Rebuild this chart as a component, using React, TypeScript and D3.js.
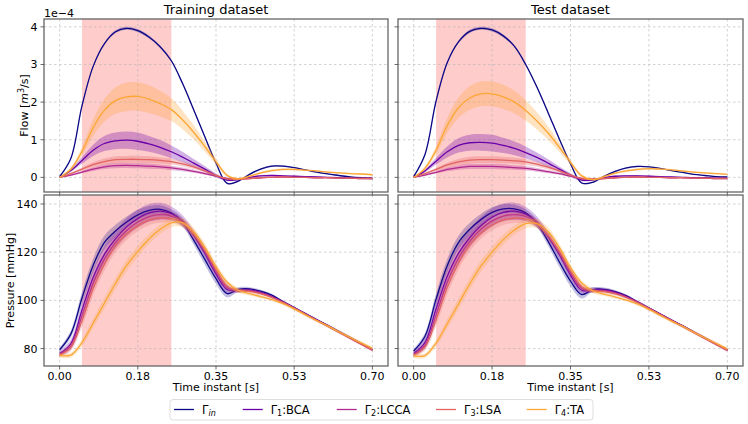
import { useEffect, useRef } from 'react';
import * as d3 from 'd3';

// Time axis (s) and tick labels
const timeSteps = [
  0, 0.025, 0.05, 0.075, 0.1, 0.125, 0.15, 0.175, 0.2, 0.225, 0.25, 0.275, 0.3, 0.325, 0.35,
  0.375, 0.4, 0.425, 0.45, 0.475, 0.5, 0.525, 0.55, 0.575, 0.6, 0.625, 0.65, 0.675, 0.7,
];
const xTicks = [0, 0.175, 0.35, 0.525, 0.7];
const xTickLabels = ['0.00', '0.18', '0.35', '0.53', '0.70'];
const flowTicks = [0, 1, 2, 3, 4];
const pressureTicks = [80, 100, 120, 140];
const systoleWindow = [0.05, 0.25];

const datasetTitles = ['Training dataset', 'Test dataset'];
const seriesSub = ['in', '1', '2', '3', '4'];
const seriesTag = ['', ':BCA', ':LCCA', ':LSA', ':TA'];
const seriesColors = ['#0d0887', '#6a00a8', '#b12a90', '#e16462', '#fca636'];

// Flow, units of 1e-4 m^3/s. Rows: in, BCA, LCCA, LSA, TA
const trainFlowMean = [
  [0.02, 0.5, 1.9, 2.95, 3.55, 3.87, 3.96, 3.9, 3.73, 3.47, 3.1, 2.5, 1.8, 1.08, 0.38, -0.16, -0.1, 0.08, 0.22, 0.3, 0.3, 0.26, 0.2, 0.14, 0.09, 0.05, 0.01, -0.01, -0.02],
  [0, 0.18, 0.45, 0.72, 0.9, 0.97, 0.99, 0.96, 0.89, 0.8, 0.68, 0.54, 0.38, 0.22, 0.05, -0.07, -0.06, 0, 0.04, 0.05, 0.04, 0.03, 0.02, 0.01, 0, -0.01, -0.02, -0.02, -0.03],
  [0, 0.06, 0.14, 0.22, 0.28, 0.31, 0.32, 0.31, 0.3, 0.28, 0.25, 0.21, 0.16, 0.1, 0.03, -0.03, -0.04, -0.03, -0.01, 0, 0.01, 0, 0, -0.01, -0.01, -0.02, -0.02, -0.03, -0.03],
  [0, 0.1, 0.22, 0.34, 0.42, 0.47, 0.48, 0.48, 0.47, 0.45, 0.42, 0.36, 0.28, 0.17, 0.05, -0.04, -0.05, -0.03, -0.01, 0, 0.01, 0, 0, -0.01, -0.01, -0.02, -0.02, -0.03, -0.03],
  [0, 0.22, 0.69, 1.32, 1.78, 2.04, 2.14, 2.15, 2.08, 1.96, 1.8, 1.53, 1.2, 0.82, 0.42, 0.05, -0.04, 0.03, 0.12, 0.18, 0.21, 0.21, 0.19, 0.17, 0.14, 0.12, 0.1, 0.09, 0.07],
];
const trainFlowStd = [
  [0.01, 0.02, 0.03, 0.03, 0.03, 0.04, 0.04, 0.04, 0.04, 0.03, 0.03, 0.03, 0.03, 0.03, 0.02, 0.02, 0.02, 0.02, 0.02, 0.02, 0.02, 0.01, 0.01, 0.01, 0.01, 0.01, 0.01, 0.01, 0.01],
  [0.01, 0.04, 0.09, 0.15, 0.2, 0.22, 0.23, 0.23, 0.21, 0.19, 0.17, 0.14, 0.11, 0.08, 0.05, 0.03, 0.02, 0.02, 0.02, 0.02, 0.02, 0.02, 0.01, 0.01, 0.01, 0.01, 0.01, 0.01, 0.01],
  [0.01, 0.02, 0.03, 0.05, 0.06, 0.07, 0.07, 0.07, 0.07, 0.06, 0.06, 0.05, 0.04, 0.03, 0.02, 0.02, 0.01, 0.01, 0.01, 0.01, 0.01, 0.01, 0.01, 0.01, 0.01, 0.01, 0.01, 0.01, 0.01],
  [0.01, 0.02, 0.04, 0.06, 0.08, 0.09, 0.09, 0.09, 0.09, 0.08, 0.08, 0.07, 0.06, 0.04, 0.03, 0.02, 0.02, 0.01, 0.01, 0.01, 0.01, 0.01, 0.01, 0.01, 0.01, 0.01, 0.01, 0.01, 0.01],
  [0.01, 0.05, 0.12, 0.22, 0.3, 0.35, 0.38, 0.38, 0.37, 0.34, 0.3, 0.25, 0.19, 0.13, 0.08, 0.04, 0.03, 0.03, 0.03, 0.03, 0.03, 0.03, 0.02, 0.02, 0.02, 0.02, 0.02, 0.02, 0.02],
];
const testFlowMean = [
  [0.02, 0.6, 2.03, 3.05, 3.6, 3.88, 3.96, 3.92, 3.76, 3.48, 3.0, 2.4, 1.72, 1.02, 0.36, -0.15, -0.13, 0.03, 0.16, 0.25, 0.29, 0.28, 0.24, 0.18, 0.13, 0.08, 0.05, 0.02, 0.01],
  [0, 0.17, 0.43, 0.68, 0.85, 0.92, 0.93, 0.91, 0.85, 0.77, 0.66, 0.53, 0.38, 0.22, 0.06, -0.07, -0.07, -0.01, 0.03, 0.04, 0.04, 0.03, 0.02, 0.01, 0, -0.01, -0.01, -0.02, -0.02],
  [0, 0.06, 0.13, 0.21, 0.26, 0.29, 0.29, 0.29, 0.28, 0.26, 0.24, 0.2, 0.15, 0.1, 0.03, -0.03, -0.04, -0.03, -0.01, 0, 0.01, 0, 0, -0.01, -0.01, -0.02, -0.02, -0.03, -0.03],
  [0, 0.1, 0.21, 0.33, 0.41, 0.46, 0.47, 0.47, 0.46, 0.44, 0.41, 0.35, 0.27, 0.17, 0.06, -0.03, -0.05, -0.03, -0.01, 0, 0.01, 0, 0, -0.01, -0.01, -0.02, -0.02, -0.03, -0.03],
  [0, 0.24, 0.72, 1.38, 1.85, 2.11, 2.22, 2.22, 2.14, 2.0, 1.78, 1.5, 1.18, 0.8, 0.4, 0.04, -0.06, 0.02, 0.11, 0.17, 0.21, 0.23, 0.22, 0.2, 0.17, 0.14, 0.12, 0.1, 0.08],
];
const testFlowStd = [
  [0.01, 0.02, 0.03, 0.03, 0.03, 0.04, 0.04, 0.04, 0.04, 0.03, 0.03, 0.03, 0.03, 0.03, 0.02, 0.02, 0.02, 0.02, 0.02, 0.02, 0.02, 0.01, 0.01, 0.01, 0.01, 0.01, 0.01, 0.01, 0.01],
  [0.01, 0.04, 0.09, 0.15, 0.19, 0.21, 0.22, 0.22, 0.2, 0.18, 0.16, 0.13, 0.1, 0.07, 0.05, 0.03, 0.02, 0.02, 0.02, 0.02, 0.02, 0.02, 0.01, 0.01, 0.01, 0.01, 0.01, 0.01, 0.01],
  [0.01, 0.02, 0.03, 0.05, 0.06, 0.07, 0.07, 0.07, 0.07, 0.06, 0.06, 0.05, 0.04, 0.03, 0.02, 0.02, 0.01, 0.01, 0.01, 0.01, 0.01, 0.01, 0.01, 0.01, 0.01, 0.01, 0.01, 0.01, 0.01],
  [0.01, 0.02, 0.04, 0.06, 0.08, 0.09, 0.09, 0.09, 0.09, 0.08, 0.08, 0.07, 0.06, 0.04, 0.03, 0.02, 0.02, 0.01, 0.01, 0.01, 0.01, 0.01, 0.01, 0.01, 0.01, 0.01, 0.01, 0.01, 0.01],
  [0.01, 0.05, 0.11, 0.2, 0.27, 0.31, 0.33, 0.33, 0.32, 0.3, 0.27, 0.23, 0.18, 0.12, 0.07, 0.04, 0.03, 0.03, 0.03, 0.03, 0.03, 0.03, 0.02, 0.02, 0.02, 0.02, 0.02, 0.02, 0.02],
];

// Pressure, mmHg
const trainPressureMean = [
  [79.5, 86, 101, 114.5, 124, 128.8, 132.5, 135.5, 137.3, 137.8, 136.3, 132.5, 125, 117, 109, 102.8, 104.6, 104.8, 103.8, 102.2, 99.5, 97, 94.5, 92, 89.6, 87.1, 84.6, 82.1, 79.6],
  [78, 82, 96, 109.5, 119, 125.5, 130.5, 134, 136.3, 137, 136, 133, 127, 119.5, 111, 104.5, 104.2, 104.3, 103.3, 101.6, 99.4, 96.9, 94.4, 91.9, 89.5, 87, 84.5, 82, 79.5],
  [77.5, 81, 93.5, 107, 117, 124, 129, 132.5, 134.8, 135.6, 135, 132.5, 127.5, 120.5, 112, 105.3, 104, 104, 103, 101.4, 99.2, 96.8, 94.3, 91.8, 89.4, 86.9, 84.4, 81.9, 79.4],
  [77.3, 80.5, 91.5, 105, 115, 122.5, 127.5, 131, 133.3, 134.2, 134, 132, 127.5, 121, 113, 106, 104, 103.7, 102.8, 101.2, 99.1, 96.7, 94.2, 91.7, 89.3, 86.8, 84.3, 81.8, 79.3],
  [77.2, 77.3, 82.5, 90.5, 98.8, 107, 114.5, 120.3, 125.5, 129.5, 132.2, 132.3, 128.5, 122, 114, 107.5, 104.2, 102.8, 101.6, 100.3, 98.6, 96.4, 94, 91.6, 89.4, 87, 84.7, 82.4, 80.1],
];
const trainPressureStd = [
  [0.8, 1.5, 2.5, 2.8, 2.8, 2.6, 2.3, 2.1, 1.9, 1.7, 1.5, 1.6, 1.9, 2.2, 2.2, 1.6, 0.9, 0.7, 0.6, 0.5, 0.5, 0.5, 0.5, 0.5, 0.5, 0.5, 0.5, 0.5, 0.5],
  [1, 1.8, 3, 3.3, 3.4, 3.5, 3.6, 3.7, 3.7, 3.5, 3, 2.4, 2, 1.9, 1.9, 1.4, 0.9, 0.7, 0.6, 0.6, 0.5, 0.5, 0.5, 0.5, 0.5, 0.5, 0.5, 0.5, 0.5],
  [0.9, 1.6, 2.7, 3, 2.9, 2.7, 2.5, 2.3, 2.1, 2, 1.8, 1.7, 1.7, 1.8, 1.8, 1.3, 0.8, 0.6, 0.6, 0.5, 0.5, 0.5, 0.5, 0.5, 0.5, 0.5, 0.5, 0.5, 0.5],
  [0.9, 1.5, 2.6, 2.9, 2.8, 2.6, 2.4, 2.2, 2.1, 2, 1.8, 1.7, 1.7, 1.8, 1.8, 1.3, 0.8, 0.6, 0.6, 0.5, 0.5, 0.5, 0.5, 0.5, 0.5, 0.5, 0.5, 0.5, 0.5],
  [1, 1, 1.5, 2, 2.3, 2.4, 2.4, 2.3, 2.1, 2, 1.9, 1.8, 1.7, 1.6, 1.5, 1.2, 1, 0.8, 0.7, 0.6, 0.6, 0.6, 0.6, 0.6, 0.6, 0.6, 0.6, 0.6, 0.6],
];
const testPressureMean = [
  [79, 85, 100.5, 114.5, 124, 129.5, 133.5, 136.5, 138, 138, 136.3, 132, 124.5, 116, 108, 102.4, 104.5, 104.6, 103.6, 101.9, 99.3, 96.8, 94.3, 91.8, 89.4, 86.9, 84.4, 81.9, 79.4],
  [78, 82.5, 96.5, 110, 119.5, 126, 131, 134.5, 136.5, 137, 135.8, 132.5, 126.5, 119, 110.5, 104.2, 104.4, 104.4, 103.4, 101.6, 99.3, 96.8, 94.3, 91.8, 89.4, 86.9, 84.4, 81.9, 79.4],
  [77.5, 81.3, 94, 107.5, 117.5, 124.5, 129.5, 133, 135, 135.6, 134.8, 132.2, 127, 120, 111.5, 105, 104, 104, 103, 101.4, 99.2, 96.7, 94.2, 91.7, 89.3, 86.8, 84.3, 81.8, 79.3],
  [77.2, 80.6, 92, 105.5, 115.5, 123, 128, 131.3, 133.4, 134.1, 133.8, 131.7, 127, 120.5, 112.5, 105.8, 103.9, 103.6, 102.7, 101.1, 99, 96.6, 94.1, 91.6, 89.2, 86.7, 84.2, 81.7, 79.2],
  [77, 77.1, 82.3, 90.3, 98.5, 106.8, 114.2, 120, 125.2, 129.2, 131.8, 131.9, 128.6, 122, 113.6, 107.2, 104, 102.6, 101.4, 100.1, 98.4, 96.2, 93.8, 91.4, 89.2, 86.8, 84.5, 82.2, 79.9],
];
const testPressureStd = trainPressureStd;

// Layout (pixels)
const WIDTH = 748;
const HEIGHT = 424;
const FONT = '"DejaVu Sans", sans-serif';
const panelCols = [
  { left: 44, right: 388 },
  { left: 398, right: 743 },
];
const panelRows = [
  { top: 19, bottom: 192 },
  { top: 195, bottom: 366 },
];
const legendItemX = [174, 242.7, 336.7, 436, 526.7];

type Band = { mean: number[][]; std: number[][] };

function paddedExtent(values: number[], frac = 0.05): [number, number] {
  const [lo, hi] = d3.extent(values) as [number, number];
  const pad = (hi - lo) * frac;
  return [lo - pad, hi + pad];
}

function bandValues(groups: Band[]): number[] {
  const out: number[] = [];
  groups.forEach(({ mean, std }) =>
    mean.forEach((row, s) =>
      row.forEach((v, i) => {
        out.push(v - std[s][i], v + std[s][i]);
      })
    )
  );
  return out;
}

export default function App() {
  const svgRef = useRef<SVGSVGElement>(null);

  useEffect(() => {
    if (!svgRef.current) return;
    const svg = d3.select(svgRef.current);
    svg.selectAll('*').remove();

    const rows = [
      {
        ticks: flowTicks,
        bandOpacity: 0.3,
        data: [
          { mean: trainFlowMean, std: trainFlowStd },
          { mean: testFlowMean, std: testFlowStd },
        ],
      },
      {
        ticks: pressureTicks,
        bandOpacity: 0.25,
        data: [
          { mean: trainPressureMean, std: trainPressureStd },
          { mean: testPressureMean, std: testPressureStd },
        ],
      },
    ];

    const xDomain = paddedExtent(timeSteps);

    rows.forEach((rowDef, r) => {
      const row = panelRows[r];
      const yDomain = paddedExtent(bandValues(rowDef.data));
      const y = d3.scaleLinear().domain(yDomain).range([row.bottom, row.top]);

      panelCols.forEach((col, c) => {
        const x = d3.scaleLinear().domain(xDomain).range([col.left, col.right]);
        const { mean, std } = rowDef.data[c];
        const g = svg.append('g');
        const clipId = `clip-${r}-${c}`;
        g.append('clipPath')
          .attr('id', clipId)
          .append('rect')
          .attr('x', col.left)
          .attr('y', row.top)
          .attr('width', col.right - col.left)
          .attr('height', row.bottom - row.top);

        const plot = g.append('g').attr('clip-path', `url(#${clipId})`);

        // Systole window
        plot
          .append('rect')
          .attr('x', x(systoleWindow[0]))
          .attr('width', x(systoleWindow[1]) - x(systoleWindow[0]))
          .attr('y', row.top)
          .attr('height', row.bottom - row.top)
          .attr('fill', '#ffcccc');

        // Grid
        const grid = plot
          .append('g')
          .attr('stroke', '#b0b0b0')
          .attr('stroke-width', 0.8)
          .attr('stroke-dasharray', '2.5,2.5')
          .attr('opacity', 0.7);
        xTicks.forEach((t) =>
          grid.append('line').attr('x1', x(t)).attr('x2', x(t)).attr('y1', row.top).attr('y2', row.bottom)
        );
        rowDef.ticks.forEach((v) =>
          grid.append('line').attr('x1', col.left).attr('x2', col.right).attr('y1', y(v)).attr('y2', y(v))
        );

        // Series: band then mean line
        seriesColors.forEach((color, s) => {
          const idx = d3.range(timeSteps.length);
          const area = d3
            .area<number>()
            .x((i) => x(timeSteps[i]))
            .y0((i) => y(mean[s][i] - std[s][i]))
            .y1((i) => y(mean[s][i] + std[s][i]))
            .curve(d3.curveCatmullRom.alpha(0.5));
          const line = d3
            .line<number>()
            .x((i) => x(timeSteps[i]))
            .y((i) => y(mean[s][i]))
            .curve(d3.curveCatmullRom.alpha(0.5));
          plot
            .append('path')
            .datum(idx)
            .attr('d', area)
            .attr('fill', color)
            .attr('fill-opacity', rowDef.bandOpacity);
          plot
            .append('path')
            .datum(idx)
            .attr('d', line)
            .attr('fill', 'none')
            .attr('stroke', color)
            .attr('stroke-width', 1.3);
        });

        // Frame
        g.append('rect')
          .attr('x', col.left)
          .attr('y', row.top)
          .attr('width', col.right - col.left)
          .attr('height', row.bottom - row.top)
          .attr('fill', 'none')
          .attr('stroke', '#666')
          .attr('stroke-width', 1.3);

        // Tick marks
        const tickG = g.append('g').attr('stroke', '#444').attr('stroke-width', 0.8);
        xTicks.forEach((t) =>
          tickG.append('line').attr('x1', x(t)).attr('x2', x(t)).attr('y1', row.bottom).attr('y2', row.bottom + 3.5)
        );
        rowDef.ticks.forEach((v) =>
          tickG.append('line').attr('x1', col.left - 3.5).attr('x2', col.left).attr('y1', y(v)).attr('y2', y(v))
        );

        if (c === 0) {
          rowDef.ticks.forEach((v) =>
            g
              .append('text')
              .attr('x', col.left - 6.5)
              .attr('y', y(v) + 4)
              .attr('text-anchor', 'end')
              .attr('font-size', 11)
              .attr('fill', '#000')
              .text(String(v))
          );
        }
        if (r === 1) {
          xTicks.forEach((t, k) =>
            g
              .append('text')
              .attr('x', x(t))
              .attr('y', row.bottom + 13.5)
              .attr('text-anchor', 'middle')
              .attr('font-size', 11)
              .text(xTickLabels[k])
          );
          g.append('text')
            .attr('x', (col.left + col.right) / 2)
            .attr('y', row.bottom + 25)
            .attr('text-anchor', 'middle')
            .attr('font-size', 11)
            .text('Time instant [s]');
        }
        if (r === 0) {
          g.append('text')
            .attr('x', (col.left + col.right) / 2)
            .attr('y', row.top - 5.5)
            .attr('text-anchor', 'middle')
            .attr('font-size', 13)
            .text(datasetTitles[c]);
        }
      });
    });

    // Offset text and y labels
    svg
      .append('text')
      .attr('x', panelCols[0].left)
      .attr('y', panelRows[0].top - 2.5)
      .attr('font-size', 11)
      .text('1e\u22124');

    const flowMid = (panelRows[0].top + panelRows[0].bottom) / 2;
    const flowLabel = svg
      .append('text')
      .attr('transform', `translate(27.5,${flowMid}) rotate(-90)`)
      .attr('text-anchor', 'middle')
      .attr('font-size', 11);
    flowLabel.append('tspan').text('Flow [');
    flowLabel.append('tspan').attr('font-style', 'italic').text('m');
    flowLabel.append('tspan').attr('font-size', 8).attr('dy', -4).text('3');
    flowLabel.append('tspan').attr('dy', 4).text('/s]');

    const pressureMid = (panelRows[1].top + panelRows[1].bottom) / 2;
    svg
      .append('text')
      .attr('transform', `translate(13.5,${pressureMid}) rotate(-90)`)
      .attr('text-anchor', 'middle')
      .attr('font-size', 11)
      .text('Pressure [mmHg]');

    // Legend
    const legend = svg.append('g');
    legend
      .append('rect')
      .attr('x', 170)
      .attr('y', 399.5)
      .attr('width', 423)
      .attr('height', 20.5)
      .attr('rx', 3)
      .attr('fill', '#fff')
      .attr('stroke', '#d6d6d6')
      .attr('stroke-width', 0.8);
    seriesColors.forEach((color, i) => {
      const lx = legendItemX[i];
      legend
        .append('line')
        .attr('x1', lx)
        .attr('x2', lx + 20)
        .attr('y1', 409.5)
        .attr('y2', 409.5)
        .attr('stroke', color)
        .attr('stroke-width', 1.3);
      const t = legend.append('text').attr('x', lx + 28).attr('y', 413.5).attr('font-size', 11.5);
      t.append('tspan').text('\u0393');
      t.append('tspan')
        .attr('font-size', 8)
        .attr('dy', 2.5)
        .attr('font-style', i === 0 ? 'italic' : 'normal')
        .text(seriesSub[i]);
      if (seriesTag[i]) t.append('tspan').attr('dy', -2.5).text(seriesTag[i]);
    });
  }, []);

  return (
    <div style={{ position: 'absolute', left: 0, top: 0 }}>
      <svg
        ref={svgRef}
        width={WIDTH}
        height={HEIGHT}
        style={{ display: 'block', background: '#fff', fontFamily: FONT }}
      />
    </div>
  );
}
